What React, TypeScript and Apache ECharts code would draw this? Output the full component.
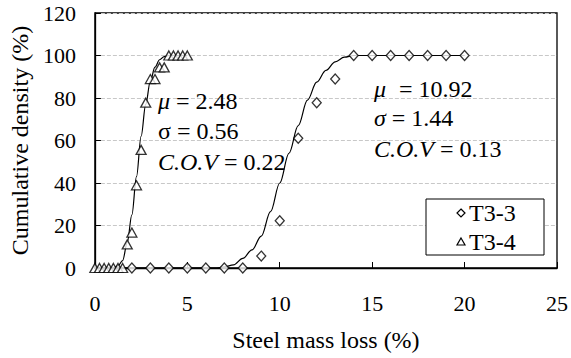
import React, { useEffect, useRef } from "react";
import * as echarts from "echarts";

// Measured cumulative density (%) against steel mass loss (%)
const t33Loss = [2, 3, 4, 5, 6, 7, 8, 9, 10, 11, 12, 13, 14, 15, 16, 17, 18, 19, 20];
const t33Density = [0, 0, 0, 0, 0, 0, 0, 5.6, 22.2, 61.1, 77.8, 88.9, 100, 100, 100, 100, 100, 100, 100];

const t34Loss = [0, 0.25, 0.5, 0.75, 1, 1.25, 1.5, 1.75, 2, 2.25, 2.5, 2.75, 3, 3.25, 3.5, 3.75, 4, 4.25, 4.5, 4.75, 5];
const t34Density = [0, 0, 0, 0, 0, 0, 0, 11.1, 16.7, 38.9, 55.6, 77.8, 88.9, 88.9, 94.4, 94.4, 100, 100, 100, 100, 100];

// Fitted distribution curves
const t33FitLoss = [0, 6, 6.5, 7, 7.5, 8, 8.5, 9, 9.5, 10, 10.5, 11, 11.5, 12, 12.5, 13, 13.5, 14, 14.5, 20];
const t33FitDensity = [0, 0, 0, 0.5, 1.5, 4.5, 8.5, 15, 26.5, 40, 54, 67, 79, 87.5, 93, 97, 99.2, 100, 100, 100];

const t34FitLoss = [0, 0.75, 1, 1.25, 1.5, 1.75, 2, 2.25, 2.5, 2.75, 3, 3.25, 3.5, 3.75, 4, 4.25, 5];
const t34FitDensity = [0, 0, 0, 1, 3.5, 12, 25, 43, 62, 77, 88, 94.5, 98, 99.5, 100, 100, 100];

const seriesNames = ["T3-3", "T3-4"];

// Fit statistics, as [text, italic, gap before] pieces per line
type Piece = [string, boolean, number];
const statsLeft: Piece[][] = [
  [["μ", true, 0], ["= 2.48", false, 6]],
  [["σ = 0.56", false, 0]],
  [["C.O.V", true, 0], ["= 0.22", false, 6]],
];
const statsRight: Piece[][] = [
  [["μ", true, 0], ["= 10.92", false, 13]],
  [["σ", true, 0], ["= 1.44", false, 6]],
  [["C.O.V", true, 0], ["= 0.13", false, 6]],
];

const FONT = "Liberation Serif";

const pairs = (xs: number[], ys: number[]) => xs.map((x, i) => [x, ys[i]]);

export default function App() {
  const ref = useRef<HTMLDivElement>(null);

  useEffect(() => {
    document.body.style.margin = "0";
    const chart = echarts.init(ref.current!, null, { renderer: "svg" });

    const ctx = document.createElement("canvas").getContext("2d")!;
    const measure = (text: string, italic: boolean) => {
      ctx.font = `${italic ? "italic " : ""}24px ${FONT}`;
      return ctx.measureText(text).width;
    };

    const textEl = (text: string, x: number, y: number, italic = false) => ({
      type: "text",
      x,
      y,
      z: 10,
      style: {
        text,
        fill: "#000",
        fontSize: 24,
        fontFamily: FONT,
        fontStyle: italic ? "italic" : "normal",
        verticalAlign: "middle",
      },
    });

    const statLine = (pieces: Piece[], x0: number, y: number) => {
      const els: any[] = [];
      let x = x0;
      pieces.forEach(([t, it, gap]) => {
        x += gap;
        els.push(textEl(t, x, y, it));
        x += measure(t, it);
      });
      return els;
    };

    const fitLine = (name: string, xs: number[], ys: number[]) => ({
      name,
      type: "line",
      data: pairs(xs, ys),
      smooth: 0.35,
      smoothMonotone: "x",
      showSymbol: false,
      symbol: "none",
      lineStyle: { color: "#000", width: 1.2 },
      z: 2,
    });

    // Legend box with the two marker keys
    const legendEls: any[] = [
      {
        type: "rect",
        z: 20,
        shape: { x: 426, y: 199, width: 118, height: 56 },
        style: { fill: "#fff", stroke: "#000", lineWidth: 1 },
      },
      {
        type: "polygon",
        z: 21,
        shape: { points: [[461, 209], [465, 213], [461, 217], [457, 213]] },
        style: { fill: "#fff", stroke: "#000", lineWidth: 1.2 },
      },
      {
        type: "polygon",
        z: 21,
        shape: { points: [[461, 238], [465, 245], [457, 245]] },
        style: { fill: "#fff", stroke: "#000", lineWidth: 1.2 },
      },
      { ...textEl(seriesNames[0], 469, 213), z: 21 },
      { ...textEl(seriesNames[1], 469, 242), z: 21 },
    ];

    chart.setOption({
      animation: false,
      grid: {
        left: 91,
        right: 11,
        top: 13,
        bottom: 90,
        show: true,
        borderColor: "#000",
        borderWidth: 1.3,
      },
      xAxis: {
        type: "value",
        min: 0,
        max: 25,
        interval: 5,
        name: "Steel mass loss (%)",
        nameLocation: "middle",
        nameGap: 60,
        nameTextStyle: { fontSize: 24, fontFamily: FONT, color: "#000" },
        axisLine: { show: true, lineStyle: { color: "#000", width: 1.3 } },
        axisTick: { show: true, inside: true, length: 6, lineStyle: { color: "#000" } },
        axisLabel: { fontSize: 22, fontFamily: FONT, color: "#000", margin: 24 },
        splitLine: { show: false },
      },
      yAxis: {
        type: "value",
        min: 0,
        max: 120,
        interval: 20,
        name: "Cumulative density (%)",
        nameLocation: "middle",
        nameGap: 58,
        nameTextStyle: { fontSize: 24, fontFamily: FONT, color: "#000" },
        axisLine: { show: true, lineStyle: { color: "#000", width: 1.3 } },
        axisTick: { show: true, inside: true, length: 6, lineStyle: { color: "#000" } },
        axisLabel: { fontSize: 22, fontFamily: FONT, color: "#000", margin: 19 },
        splitLine: { show: true, lineStyle: { color: "#c8c8c8", type: "dashed", width: 1 } },
      },
      series: [
        fitLine("T3-3 fit", t33FitLoss, t33FitDensity),
        fitLine("T3-4 fit", t34FitLoss, t34FitDensity),
        {
          name: seriesNames[0],
          type: "scatter",
          data: pairs(t33Loss, t33Density),
          symbol: "diamond",
          symbolSize: [9, 10],
          itemStyle: { color: "#fff", borderColor: "#000", borderWidth: 1.3 },
          z: 3,
        },
        {
          name: seriesNames[1],
          type: "scatter",
          data: pairs(t34Loss, t34Density),
          symbol: "triangle",
          symbolSize: [10, 9],
          itemStyle: { color: "#fff", borderColor: "#000", borderWidth: 1.3 },
          z: 3,
        },
      ],
      graphic: [
        ...statLine(statsLeft[0], 158, 101),
        ...statLine(statsLeft[1], 158, 131),
        ...statLine(statsLeft[2], 158, 162),
        ...statLine(statsRight[0], 374, 89),
        ...statLine(statsRight[1], 374, 118),
        ...statLine(statsRight[2], 374, 149),
        ...legendEls,
      ],
    });

    return () => chart.dispose();
  }, []);

  return <div ref={ref} style={{ width: 571, height: 358 }} />;
}
